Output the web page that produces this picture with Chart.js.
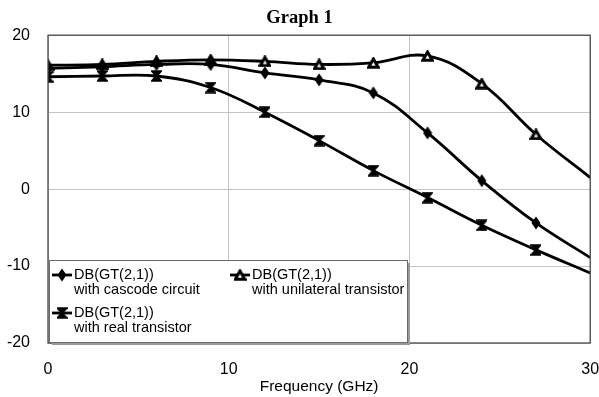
<!DOCTYPE html>
<html>
<head>
<meta charset="utf-8">
<script src="https://cdn.jsdelivr.net/npm/chart.js@4"></script>
<style>
    body { margin: 0; background: #fff; }
    #wrap { width: 599px; height: 397px; }
</style>
</head>
<body>
<div id="wrap"><canvas id="graph"></canvas></div>
<script>
// 周波数 (GHz)
const freqs = [0, 3, 6, 9, 12, 15, 18, 21, 24, 27, 30];
// DB(GT(2,1)) with cascode circuit
const cascodeValues = [15.7, 15.9, 16.2, 16.2, 15.1, 14.2, 12.5, 7.3, 1.1, -4.4, -8.9];
// DB(GT(2,1)) with unilateral transistor
const unilateralValues = [16.1, 16.2, 16.6, 16.8, 16.6, 16.2, 16.4, 17.3, 13.7, 7.1, 1.5];
// DB(GT(2,1)) with real transistor
const realValues = [14.6, 14.7, 14.7, 13.2, 10.0, 6.3, 2.4, -1.1, -4.7, -7.9, -10.9];

const seriesLabels = [
    ['DB(GT(2,1))', 'with cascode circuit'],
    ['DB(GT(2,1))', 'with unilateral transistor'],
    ['DB(GT(2,1))', 'with real transistor']
];
const xTicks = [0, 10, 20, 30];
const yTicks = [-20, -10, 0, 10, 20];

// マーカー画像を作る
function makeMarker(w, h, draw) {
    const c = document.createElement('canvas');
    c.width = w;
    c.height = h;
    const g = c.getContext('2d');
    g.fillStyle = '#000';
    g.strokeStyle = '#000';
    g.lineJoin = 'miter';
    draw(g, w, h);
    return c;
}

const diamond = makeMarker(10, 14, (g, w, h) => {
    g.beginPath();
    g.moveTo(w / 2, 0.5);
    g.lineTo(w - 0.5, h / 2);
    g.lineTo(w / 2, h - 0.5);
    g.lineTo(0.5, h / 2);
    g.closePath();
    g.fill();
});

const triangle = makeMarker(13, 12, (g, w, h) => {
    g.lineWidth = 3;
    g.fillStyle = '#fff';
    g.beginPath();
    g.moveTo(w / 2, 2);
    g.lineTo(w - 1.8, h - 1.8);
    g.lineTo(1.8, h - 1.8);
    g.closePath();
    g.fill();
    g.stroke();
});

const hourglass = makeMarker(11, 12, (g, w, h) => {
    g.lineWidth = 2.2;
    g.beginPath();
    g.moveTo(1.3, 1.3);
    g.lineTo(w - 1.3, 1.3);
    g.lineTo(1.3, h - 1.3);
    g.lineTo(w - 1.3, h - 1.3);
    g.closePath();
    g.fill();
    g.stroke();
});

const markers = [diamond, triangle, hourglass];

function toPoints(values) {
    return freqs.map((f, i) => ({ x: f, y: values[i] }));
}

function makeDataset(values, idx) {
    return {
        label: seriesLabels[idx].join(' '),
        data: toPoints(values),
        borderColor: '#000',
        backgroundColor: '#000',
        borderWidth: 2.8,
        tension: 0.4,
        // 30GHzの端点にはマーカーなし
        pointStyle: ctx => ctx.dataIndex === freqs.length - 1 ? false : markers[idx],
        pointRadius: 6,
        pointHoverRadius: 6
    };
}

// 枠線
const frameBorder = {
    id: 'frameBorder',
    afterDatasetsDraw(chart) {
        const a = chart.chartArea;
        const ctx = chart.ctx;
        ctx.save();
        ctx.strokeStyle = '#4a4a4a';
        ctx.lineWidth = 1.3;
        ctx.strokeRect(a.left, a.top, a.right - a.left, a.bottom - a.top);
        ctx.restore();
    }
};

// 凡例 (2行ラベルなので自前で描く)
const boxLegend = {
    id: 'boxLegend',
    afterDraw(chart) {
        const ctx = chart.ctx;
        const a = chart.chartArea;
        const bx = a.left + 1, by = 260, bw = 358, bh = 82;
        ctx.save();
        ctx.fillStyle = '#9a9a9a';
        ctx.fillRect(bx + 3, by + 3, bw, bh);
        ctx.fillStyle = '#fff';
        ctx.fillRect(bx, by, bw, bh);
        ctx.strokeStyle = '#6a6a6a';
        ctx.lineWidth = 1;
        ctx.strokeRect(bx + 0.5, by + 0.5, bw, bh);

        const spots = [[bx + 3, by + 15], [bx + 181, by + 15], [bx + 3, by + 53]];
        ctx.font = '14.5px "Liberation Sans", Arial, sans-serif';
        ctx.textBaseline = 'middle';
        spots.forEach((p, i) => {
            ctx.strokeStyle = '#000';
            ctx.lineWidth = 2.8;
            ctx.beginPath();
            ctx.moveTo(p[0], p[1]);
            ctx.lineTo(p[0] + 20, p[1]);
            ctx.stroke();
            const m = markers[i];
            ctx.drawImage(m, p[0] + 10 - m.width / 2, p[1] - m.height / 2);
            ctx.fillStyle = '#000';
            ctx.fillText(seriesLabels[i][0], p[0] + 22, p[1]);
            ctx.fillText(seriesLabels[i][1], p[0] + 22, p[1] + 15);
        });
        ctx.restore();
    }
};

const tickFont = { family: '"Liberation Sans", Arial, sans-serif', size: 16 };

new Chart(document.getElementById('graph'), {
    type: 'line',
    data: {
        datasets: [
            makeDataset(cascodeValues, 0),
            makeDataset(unilateralValues, 1),
            makeDataset(realValues, 2)
        ]
    },
    options: {
        responsive: true,
        maintainAspectRatio: false,
        animation: false,
        layout: { padding: { left: 0, right: 0, top: 0, bottom: 0 } },
        plugins: {
            legend: { display: false },
            tooltip: { enabled: false },
            title: {
                display: true,
                text: 'Graph 1',
                color: '#000',
                font: { family: '"Liberation Serif", "Times New Roman", serif', size: 18.5, weight: 'bold' },
                padding: { top: 7, bottom: 6 }
            }
        },
        scales: {
            x: {
                type: 'linear',
                min: 0,
                max: 30,
                afterBuildTicks: scale => { scale.ticks = xTicks.map(v => ({ value: v })); },
                afterFit: scale => {
                    scale.height = 54;
                    scale.paddingLeft = 0;
                    scale.paddingRight = 8;
                },
                grid: { color: '#c4c4c4', drawTicks: false },
                border: { display: false },
                ticks: { color: '#000', font: tickFont, padding: 17, maxRotation: 0 },
                title: {
                    display: true,
                    text: 'Frequency (GHz)',
                    color: '#000',
                    font: { family: '"Liberation Sans", Arial, sans-serif', size: 15.5 },
                    padding: { top: 0, bottom: 1 }
                }
            },
            y: {
                min: -20,
                max: 20,
                afterBuildTicks: scale => { scale.ticks = yTicks.map(v => ({ value: v })); },
                afterFit: scale => { scale.width = 48; },
                grid: { color: '#c4c4c4', drawTicks: false },
                border: { display: false },
                ticks: { color: '#000', font: tickFont, padding: 18 }
            }
        }
    },
    plugins: [frameBorder, boxLegend]
});
</script>
</body>
</html>
